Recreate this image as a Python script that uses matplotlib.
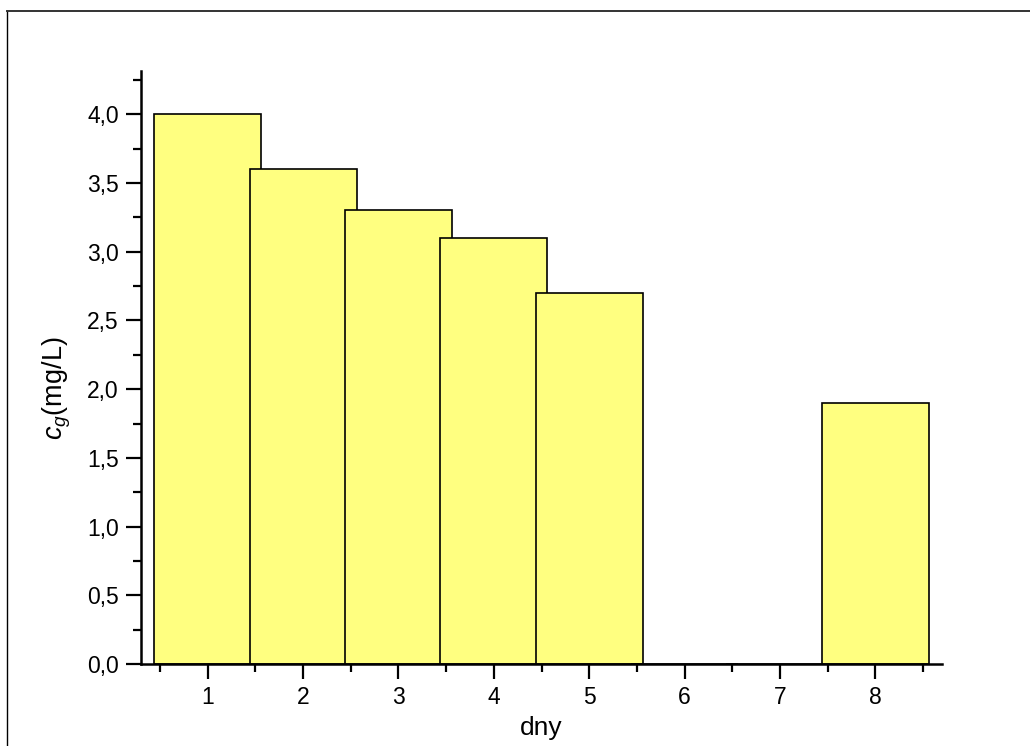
import matplotlib
matplotlib.use("Agg")
import matplotlib.pyplot as plt
from matplotlib.ticker import FuncFormatter, MultipleLocator
from matplotlib.lines import Line2D

# Data
days = [1, 2, 3, 4, 5, 6, 7, 8]
c_g = [4.0, 3.6, 3.3, 3.1, 2.7, 0.0, 0.0, 1.9]

# Style
c_STR_BAR_COLOR = "#FFFF80"
c_STR_FONT = "Liberation Sans"

plt.rcParams["font.family"] = [c_STR_FONT, "DejaVu Sans"]
plt.rcParams["mathtext.fontset"] = "custom"
plt.rcParams["mathtext.rm"] = c_STR_FONT
plt.rcParams["mathtext.it"] = c_STR_FONT + ":italic"

fig = plt.figure(figsize=(10.30, 7.46), dpi=100)
ax = fig.add_axes([141 / 1030, 1 - 664 / 746, (942 - 141) / 1030, (664 - 71) / 746])

ax.bar(days, c_g, width=1.12, color=c_STR_BAR_COLOR, edgecolor="black", linewidth=1.2)

ax.set_xlim(0.3, 8.7)
ax.set_ylim(0, 4.315)

ax.spines["top"].set_visible(False)
ax.spines["right"].set_visible(False)
for s in ["left", "bottom"]:
    ax.spines[s].set_linewidth(1.8)

ax.xaxis.set_major_locator(MultipleLocator(1))
ax.xaxis.set_minor_locator(MultipleLocator(0.5))
ax.yaxis.set_major_locator(MultipleLocator(0.5))
ax.yaxis.set_minor_locator(MultipleLocator(0.25))
ax.yaxis.set_major_formatter(FuncFormatter(lambda v, p: ("%.1f" % v).replace(".", ",")))

ax.tick_params(which="major", length=11, width=1.6, labelsize=16.5, direction="out")
ax.tick_params(which="minor", length=6, width=1.6, direction="out")
ax.tick_params(axis="x", pad=5)
ax.tick_params(axis="y", pad=5)

ax.set_xlabel("dny", fontsize=19)
ax.set_ylabel(r"$\mathit{c}_{\mathit{g}}$(mg/L)", fontsize=19.5)
ax.xaxis.set_label_coords(0.5, -(728 - 664) / 593, transform=ax.transAxes)
ax.yaxis.set_label_coords(-(141 - 57) / 801, (664 - 388) / 593, transform=ax.transAxes)
ax.xaxis.label.set_va("center")
ax.yaxis.label.set_va("center")

# Outer frame (left and top only visible)
fig.add_artist(Line2D([7 / 1030, 7 / 1030], [0, 1 - 10.5 / 746], transform=fig.transFigure, color="black", linewidth=1.0))
fig.add_artist(Line2D([7 / 1030, 1], [1 - 10.5 / 746, 1 - 10.5 / 746], transform=fig.transFigure, color="#333333", linewidth=1.4))

fig.savefig("out.png", dpi=100)
plt.close()
